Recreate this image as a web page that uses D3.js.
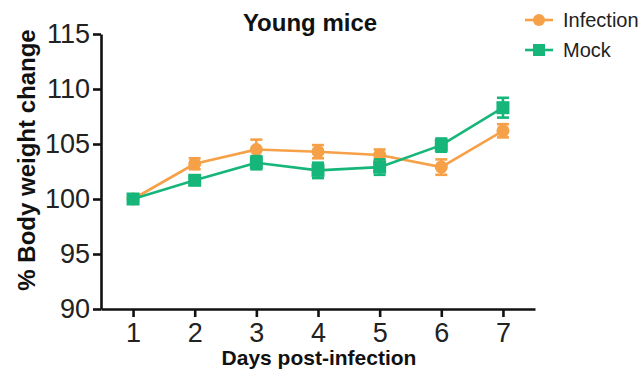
<!DOCTYPE html>
<html>
<head>
<meta charset="utf-8">
<script src="https://cdn.jsdelivr.net/npm/d3@7"></script>
<style>
body { margin:0; background:#fff; }
text { font-family: "Liberation Sans", Arial, sans-serif; }
</style>
</head>
<body>
<div id="chart-area"></div>
<script>
// days post-infection
var days = [1, 2, 3, 4, 5, 6, 7];
var infectionMean = [100, 103.2, 104.5, 104.3, 104.0, 102.9, 106.2];
var infectionErr  = [0.1, 0.5, 0.9, 0.6, 0.5, 0.7, 0.6];
var mockMean = [100, 101.7, 103.3, 102.6, 102.9, 104.9, 108.3];
var mockErr  = [0.1, 0.3, 0.6, 0.7, 0.7, 0.6, 0.9];
var yTicks = [90, 95, 100, 105, 110, 115];

var orange = "#F6A048";
var green = "#16B67A";

var svg = d3.select("#chart-area")
	.append("svg")
		.attr("width", 642)
		.attr("height", 376);

var x = d3.scaleLinear()
	.domain([0.48, 7.52])
	.range([101, 535]);

var y = d3.scaleLinear()
	.domain([90, 115])
	.range([309, 34]);

var xAxisCall = d3.axisBottom(x).tickValues(days).tickFormat(d3.format("d")).tickSize(8).tickSizeOuter(0);
var xAx = svg.append("g")
	.attr("transform", "translate(0," + y(90) + ")")
	.call(xAxisCall);

var yAxisCall = d3.axisLeft(y).tickValues(yTicks).tickFormat(d3.format("d")).tickSize(8).tickSizeOuter(0);
var yAx = svg.append("g")
	.attr("transform", "translate(" + x(0.48) + ",0)")
	.call(yAxisCall);

[xAx, yAx].forEach(function(a){
	a.selectAll("path").attr("stroke", "#111").attr("stroke-width", 2.6);
	a.selectAll("line").attr("stroke", "#111").attr("stroke-width", 2.6);
	a.selectAll("text").attr("font-size", "27px").attr("fill", "#222")
		.attr("font-family", "Liberation Sans, Arial, sans-serif");
});
xAx.selectAll("text").attr("y", 10).attr("dy", "0.85em");
yAx.selectAll("text").attr("x", -11);

// axis titles
svg.append("text")
	.attr("x", 319)
	.attr("y", 365)
	.attr("text-anchor", "middle")
	.attr("font-size", "21px")
	.attr("font-weight", "bold")
	.attr("fill", "#111")
	.text("Days post-infection");

svg.append("text")
	.attr("transform", "translate(35,160) rotate(-90)")
	.attr("text-anchor", "middle")
	.attr("font-size", "24px")
	.attr("font-weight", "bold")
	.attr("fill", "#111")
	.text("% Body weight change");

svg.append("text")
	.attr("x", 310)
	.attr("y", 31)
	.attr("text-anchor", "middle")
	.attr("font-size", "24px")
	.attr("font-weight", "bold")
	.attr("fill", "#111")
	.text("Young mice");

var series = [
	{name: "Infection", mean: infectionMean, err: infectionErr, color: orange, shape: "circle"},
	{name: "Mock", mean: mockMean, err: mockErr, color: green, shape: "square"}
];

var line = d3.line()
	.x(function(d){ return x(d.day); })
	.y(function(d){ return y(d.v); });

series.forEach(function(s){
	var pts = days.map(function(d, i){ return {day: d, v: s.mean[i], e: s.err[i]}; });
	var g = svg.append("g");

	g.append("path")
		.datum(pts)
		.attr("fill", "none")
		.attr("stroke", s.color)
		.attr("stroke-width", 2.6)
		.attr("d", line);

	// error bars
	var eb = g.selectAll(".eb").data(pts).enter().append("g");
	eb.append("line")
		.attr("x1", function(d){ return x(d.day); })
		.attr("x2", function(d){ return x(d.day); })
		.attr("y1", function(d){ return y(d.v - d.e); })
		.attr("y2", function(d){ return y(d.v + d.e); })
		.attr("stroke", s.color).attr("stroke-width", 2.6);
	[-1, 1].forEach(function(sign){
		eb.append("line")
			.attr("x1", function(d){ return x(d.day) - 6; })
			.attr("x2", function(d){ return x(d.day) + 6; })
			.attr("y1", function(d){ return y(d.v + sign * d.e); })
			.attr("y2", function(d){ return y(d.v + sign * d.e); })
			.attr("stroke", s.color).attr("stroke-width", 2.6);
	});

	if (s.shape == "circle") {
		g.selectAll(".m").data(pts).enter().append("circle")
			.attr("cx", function(d){ return x(d.day); })
			.attr("cy", function(d){ return y(d.v); })
			.attr("r", 6.5)
			.attr("fill", s.color);
	} else {
		g.selectAll(".m").data(pts).enter().append("rect")
			.attr("x", function(d){ return x(d.day) - 6.5; })
			.attr("y", function(d){ return y(d.v) - 6.5; })
			.attr("width", 13)
			.attr("height", 13)
			.attr("fill", s.color);
	}
});

// legend
var legend = svg.append("g");
series.forEach(function(s, i){
	var ly = 20 + i * 30;
	legend.append("line")
		.attr("x1", 525).attr("x2", 553)
		.attr("y1", ly).attr("y2", ly)
		.attr("stroke", s.color).attr("stroke-width", 2.6);
	if (s.shape == "circle") {
		legend.append("circle").attr("cx", 539).attr("cy", ly).attr("r", 6).attr("fill", s.color);
	} else {
		legend.append("rect").attr("x", 533).attr("y", ly - 6).attr("width", 12).attr("height", 12).attr("fill", s.color);
	}
	legend.append("text")
		.attr("x", 563)
		.attr("y", ly)
		.attr("dy", "0.36em")
		.attr("font-size", "20px")
		.attr("fill", "#222")
		.text(s.name);
});
</script>
</body>
</html>
